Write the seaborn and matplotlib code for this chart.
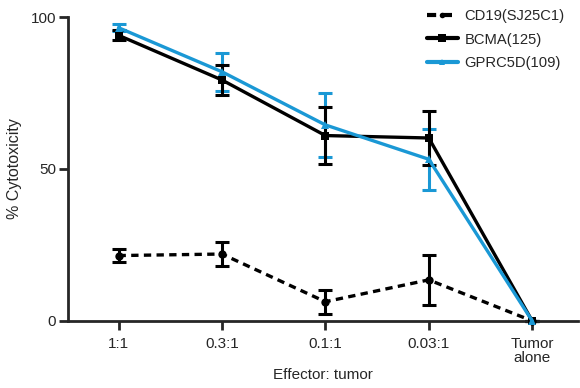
import numpy as np
import pandas as pd
import matplotlib
matplotlib.use("Agg")
import matplotlib.pyplot as plt
import seaborn as sns

# ── data ──────────────────────────────────────────────────────────────────────
ratios = ["1:1", "0.3:1", "0.1:1", "0.03:1", "Tumor\nalone"]
cd19_mean = [21.5, 22.0, 6.3, 13.5, 0.0]
cd19_err = [2.0, 3.8, 4.0, 8.2, 0.0]
bcma_mean = [94.0, 79.3, 61.0, 60.2, 0.0]
bcma_err = [1.6, 4.9, 9.5, 9.0, 0.0]
gprc_mean = [96.5, 82.0, 64.5, 53.2, 0.0]
gprc_err = [1.2, 6.3, 10.5, 10.0, 0.0]

series = ["CD19(SJ25C1)", "BCMA(125)", "GPRC5D(109)"]
colors = {"CD19(SJ25C1)": "black", "BCMA(125)": "black", "GPRC5D(109)": "#1a98d5"}
markers = {"CD19(SJ25C1)": "o", "BCMA(125)": "s", "GPRC5D(109)": "^"}
msize = {"CD19(SJ25C1)": 4, "BCMA(125)": 6, "GPRC5D(109)": 5}

pos = np.arange(len(ratios))
df = pd.DataFrame({
    "x": np.tile(pos, 3),
    "y": cd19_mean + bcma_mean + gprc_mean,
    "err": cd19_err + bcma_err + gprc_err,
    "series": np.repeat(series, len(ratios)),
})

sns.set_style("ticks")
plt.rcParams["font.family"] = ["Liberation Sans", "DejaVu Sans"]

fig = plt.figure(figsize=(5.8, 3.88), dpi=100)
ax = fig.add_axes([0.117, 0.173, 0.879, 0.783])

# error bars first so lines sit on top (blue below black)
for name in ["GPRC5D(109)", "CD19(SJ25C1)", "BCMA(125)"]:
    sub = df[df["series"] == name]
    ax.errorbar(sub["x"], sub["y"], yerr=sub["err"], fmt="none",
                ecolor=colors[name], elinewidth=2.2, capsize=5, capthick=2.2,
                zorder=2, clip_on=False)

sns.lineplot(data=df, x="x", y="y", hue="series", style="series",
             palette=colors, markers=markers,
             dashes={"CD19(SJ25C1)": (2.2, 1.6), "BCMA(125)": "", "GPRC5D(109)": ""},
             linewidth=2.4, markersize=6, markeredgewidth=0,
             ax=ax, zorder=3, clip_on=False)

for line, name in zip(ax.lines[-3:], series):
    line.set_markersize(msize[name])

ax.set_xlim(-0.49, 4.44)
ax.set_ylim(0, 100)
ax.set_yticks([0, 50, 100])
ax.set_xticks(pos)
ax.set_xticklabels(ratios, fontsize=11, linespacing=1.0)
ax.tick_params(axis="y", labelsize=11, length=6.5, width=2, pad=2)
ax.tick_params(axis="x", length=6.5, width=2, pad=5)
ax.set_xlabel("Effector: tumor", fontsize=11, labelpad=2)
ax.set_ylabel("% Cytotoxicity", fontsize=11.5, labelpad=6)
sns.despine(ax=ax)
for s in ["left", "bottom"]:
    ax.spines[s].set_linewidth(2)

leg = ax.legend(loc="upper right", bbox_to_anchor=(1.0, 1.07), frameon=False,
                fontsize=10.6, handlelength=2.1, handletextpad=0.45, labelspacing=0.65)
for h in leg.get_lines():
    h.set_linewidth(3)

fig.savefig("out.png", dpi=100)
